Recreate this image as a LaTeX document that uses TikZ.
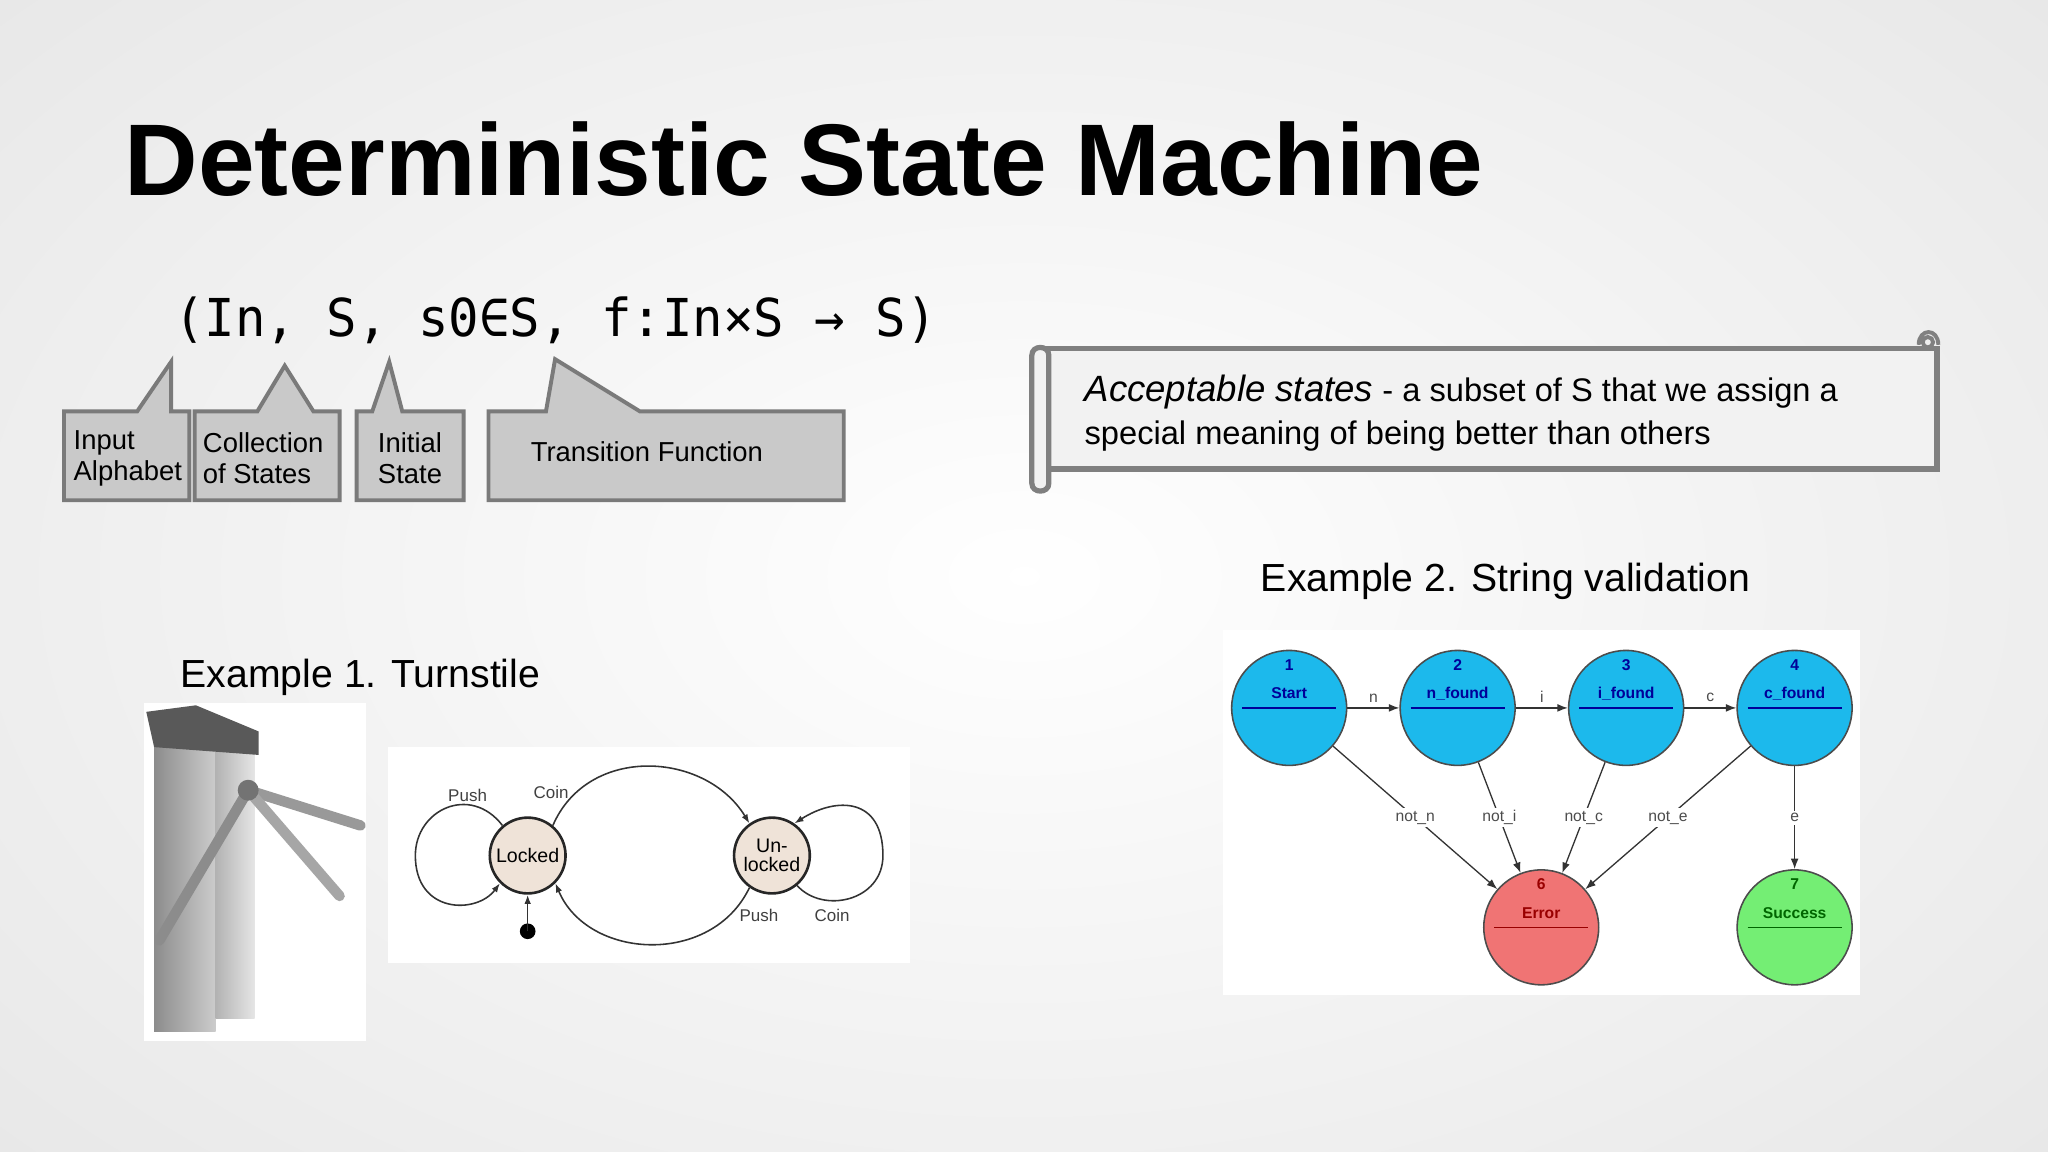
\documentclass[tikz,border=0pt]{standalone}
\usepackage{fontspec}
\setmainfont{Liberation Sans}
\newfontfamily\monof{DejaVu Sans Mono}
\usetikzlibrary{arrows.meta,shapes.geometric}
\definecolor{callfill}{HTML}{C9C9C9}
\definecolor{calldraw}{HTML}{7A7A7A}
\definecolor{cyanst}{HTML}{1CB9EC}
\definecolor{redst}{HTML}{F07474}
\definecolor{greenst}{HTML}{74EE74}
\definecolor{beigest}{HTML}{EFE3D8}
\tikzset{
  call/.style={fill=callfill,draw=calldraw,line width=1.5pt},
  calltxt/.style={font=\fontsize{10.5}{12}\selectfont,align=left,anchor=west,inner sep=0},
  heading/.style={font=\fontsize{15}{18}\selectfont,anchor=base west,inner sep=0},
  gstate/.style={circle,draw=black!70,line width=0.6pt,minimum size=44pt,inner sep=0},
  tstate/.style={circle,draw=black!85,line width=1pt,fill=beigest,minimum size=29pt,inner sep=0,align=center,font=\fontsize{7.5}{7.5}\selectfont},
  glbl/.style={font=\fontsize{6}{7}\selectfont\bfseries,inner sep=0},
  elbl/.style={font=\fontsize{6}{7}\selectfont,text=black!70,fill=white,inner sep=1pt},
  garr/.style={-{Latex[length=4pt,width=3pt]},black!80,line width=0.5pt},
  tarr/.style={-{Latex[length=3.5pt,width=2.5pt]},black!80,line width=0.6pt},
  tlbl/.style={font=\fontsize{6.5}{8}\selectfont,text=black!75,inner sep=0},
}
\begin{document}
\begin{tikzpicture}[x=0.5pt,y=-0.5pt]
\useasboundingbox (0,0) rectangle (1568,882);
\shade[inner color=white,outer color=black!20] (-400,-300) rectangle (1968,1182);
\fill[white,opacity=0.5] (0,0) rectangle (1568,882);
% title
\node[anchor=base west,inner sep=0,font=\fontsize{39}{46}\selectfont\bfseries] (title) at (95,150) {Deterministic State Machine};
% formula
\node[anchor=base west,inner sep=0,font=\monof\fontsize{20}{22}\selectfont\addfontfeatures{FakeStretch=0.97}] (tuple) at (133,258) {(In, S, s0∈S, f:In×S → S)};
% callouts
\draw[call] (49,315) -- (105,315) -- (131,277) -- (131,315) -- (145,315) -- (145,383) -- (49,383) -- cycle;
\node[calltxt] (in) at (56,351) {Input\\Alphabet};
\draw[call] (149,315) -- (197,315) -- (218,280) -- (240,315) -- (260,315) -- (260,383) -- (149,383) -- cycle;
\node[calltxt] (col) at (155,351) {Collection\\of States};
\draw[call] (273,315) -- (285,315) -- (298,277) -- (308,315) -- (355,315) -- (355,383) -- (273,383) -- cycle;
\node[calltxt] (ini) at (289,351) {Initial\\State};
\draw[call] (374,315) -- (418,315) -- (425,275) -- (490,315) -- (646,315) -- (646,383) -- (374,383) -- cycle;
\node[calltxt] (tf) at (406,346) {Transition Function};
% scroll
\draw[fill=black!5,draw=black!50,line width=2pt] (797,267) -- (1483,267) -- (1483,359) -- (797,359) -- cycle;
\draw[fill=black!5,draw=black!50,line width=2pt] (790,272) .. controls (790,264) and (803,264) .. (803,272) -- (803,370) .. controls (803,378) and (790,378) .. (790,370) -- cycle;
\draw[draw=black!50,line width=1.5pt] (1469,264) .. controls (1469,251) and (1484,251) .. (1484,264) (1476,262) circle (4);
\node[anchor=north west,inner sep=0,align=left,font=\fontsize{12.5}{16.5}\selectfont] (acc) at (830,287) {{\fontsize{14}{16}\selectfont\itshape Acceptable states} - a subset of S that we assign a\\special meaning of being better than others};
% headings
\node[heading] (ex2) at (965,453) {Example 2. String validation};
\node[heading] (ex1) at (138,526) {Example 1. Turnstile};
% turnstile photo
\fill[white] (110,538) rectangle (280,797);
\shade[left color=black!45,right color=black!20] (118,560) rectangle (165,790);
\shade[left color=black!30,right color=black!10] (165,570) rectangle (195,780);
\fill[black!65] (112,545) -- (150,540) -- (198,560) -- (198,578) -- (118,572) -- cycle;
\draw[black!40,line width=4pt,line cap=round] (190,605) -- (276,632);
\draw[black!45,line width=4pt,line cap=round] (190,605) -- (122,720);
\draw[black!35,line width=4pt,line cap=round] (190,605) -- (260,686);
\fill[black!55] (190,605) circle (8);
% turnstile diagram
\fill[white] (297,572) rectangle (697,737);
\node[tstate] (lk) at (404,655) {Locked};
\node[tstate] (ul) at (591,655) {Un-\\locked};
\coordinate (dot) at (404,713);
\fill[black] (dot) circle (6);
\draw[tarr] (dot) -- (lk);
\draw[tarr] (lk.130) .. controls (360,600) and (318,620) .. (318,655) .. controls (318,700) and (365,700) .. (lk.225);
\draw[tarr] (lk.50) .. controls (450,570) and (540,575) .. (ul.125);
\draw[tarr] (ul.235) .. controls (545,740) and (450,735) .. (lk.315);
\draw[tarr] (ul.310) .. controls (630,700) and (676,690) .. (676,655) .. controls (676,610) and (640,610) .. (ul.55);
\node[tlbl] (p1) at (358,609) {Push};
\node[tlbl] (c1) at (422,607) {Coin};
\node[tlbl] (p2) at (581,701) {Push};
\node[tlbl] (c2) at (637,701) {Coin};
% string validation graph
\fill[white] (936,482) rectangle (1424,762);
\foreach \n/\x/\y/\c/\num/\t/\tc in {s1/987/542/cyanst/1/Start/blue!60!black, s2/1116/542/cyanst/2/n\_found/blue!60!black, s3/1245/542/cyanst/3/i\_found/blue!60!black, s4/1374/542/cyanst/4/c\_found/blue!60!black, s6/1180/710/redst/6/Error/red!60!black, s7/1374/710/greenst/7/Success/green!40!black}{
  \node[gstate,fill=\c] (\n) at (\x,\y) {};
  \node[glbl,text=\tc] (\n n) at (\x,\y-33) {\num};
  \node[glbl,text=\tc] (\n t) at (\x,\y-11) {\t};
  \draw[\tc,line width=0.5pt] (\x-36,\y) -- (\x+36,\y);
}
\draw[garr] (s1) -- node[elbl,above=1pt,fill=none] {n} (s2);
\draw[garr] (s2) -- node[elbl,above=1pt,fill=none] {i} (s3);
\draw[garr] (s3) -- node[elbl,above=1pt,fill=none] {c} (s4);
\draw[garr] (s1) -- node[elbl,pos=0.5] {not\_n} (s6);
\draw[garr] (s2) -- node[elbl,pos=0.5] {not\_i} (s6);
\draw[garr] (s3) -- node[elbl,pos=0.5] {not\_c} (s6);
\draw[garr] (s4) -- node[elbl,pos=0.5] {not\_e} (s6);
\draw[garr] (s4) -- node[elbl,pos=0.5] {e} (s7);
\end{tikzpicture}
\end{document}
